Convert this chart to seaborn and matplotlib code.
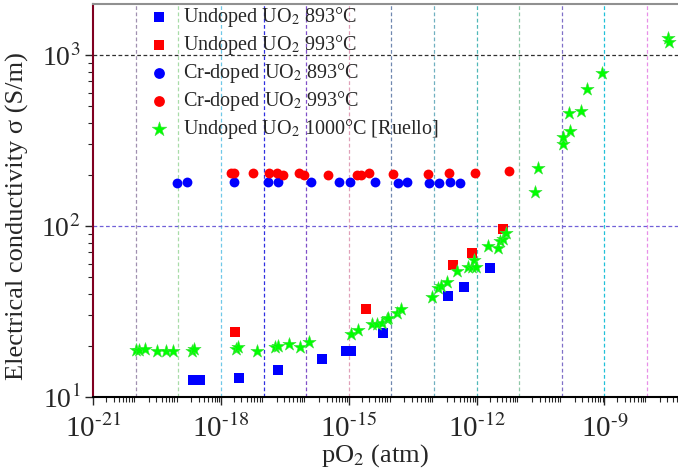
import numpy as np
import pandas as pd
import seaborn as sns
import matplotlib.pyplot as plt

sns.set_style('white')
plt.rcParams['font.family'] = ['Liberation Serif', 'DejaVu Serif']
plt.rcParams['mathtext.fontset'] = 'stix'
plt.rcParams['mathtext.default'] = 'rm'
plt.rcParams['axes.unicode_minus'] = False

# Undoped UO2 893 C (blue squares): log10(pO2), conductivity S/m
undoped893_logp = [-18.65, -18.50, -17.57, -16.66, -15.64, -15.07, -14.96, -14.21, -12.67, -12.29, -11.69]
undoped893_sig = [12.6, 12.6, 13.0, 14.3, 16.6, 18.7, 18.7, 23.7, 38.8, 44.0, 56.6]

# Undoped UO2 993 C (red squares)
undoped993_logp = [-17.67, -14.60, -12.55, -12.10, -11.39]
undoped993_sig = [23.9, 32.5, 59.0, 69.5, 95.5]

# Cr-doped UO2 893 C (blue circles)
cr893_logp = [-19.03, -18.81, -17.70, -16.90, -16.66, -15.90, -15.24, -14.97, -14.39,
              -13.85, -13.64, -13.13, -12.89, -12.63, -12.40]
cr893_sig = [179, 181, 181, 181, 181, 181, 181, 181, 180, 179, 181, 179, 179, 181, 179]

# Cr-doped UO2 993 C (red circles)
cr993_logp = [-17.77, -17.70, -17.26, -16.87, -16.68, -16.54, -16.17, -16.05, -15.49,
              -14.82, -14.72, -14.52, -13.96, -13.15, -12.65, -12.04, -11.24]
cr993_sig = [205, 205, 205, 205, 205, 199, 205, 199, 199, 199, 199, 205, 201, 201, 203, 205, 210]

# Undoped UO2 1000 C [Ruello] (green stars)
ruello_logp = [-20.00, -19.92, -19.79, -19.51, -19.29, -19.14, -18.69, -18.63, -17.65, -17.61,
               -17.15, -16.73, -16.66, -16.41, -16.15, -15.93, -14.95, -14.78, -14.45, -14.35,
               -14.23, -14.11, -14.08, -13.88, -13.78, -13.06, -12.92, -12.84, -12.70, -12.47,
               -12.21, -12.12, -12.06, -12.02, -11.74, -11.49, -11.46, -11.39, -11.31, -10.62,
               -10.57, -9.98, -9.97, -9.81, -9.83, -9.55, -9.42, -9.05, -7.50, -7.49]
ruello_sig = [18.8, 18.8, 19.0, 18.7, 18.7, 18.7, 18.7, 19.2, 19.2, 19.5,
              18.5, 19.7, 19.9, 20.4, 19.7, 21.0, 23.3, 24.6, 26.7, 26.7,
              27.2, 28.4, 28.8, 30.9, 32.7, 38.6, 43.6, 44.6, 46.9, 54.8,
              57.8, 57.3, 63.2, 57.3, 76.4, 74.3, 81.6, 83.6, 90.6, 157,
              219, 300, 333, 359, 460, 471, 633, 788, 1253, 1197]

labels = ['Undoped UO$_2$ 893°C', 'Undoped UO$_2$ 993°C', 'Cr-doped UO$_2$ 893°C',
          'Cr-doped UO$_2$ 993°C', 'Undoped UO$_2$ 1000°C [Ruello]']
x_exps = [-21, -18, -15, -12, -9]
y_exps = [1, 2, 3]

def frame(logp, sig):
    return pd.DataFrame({'p': 10.0 ** np.array(logp), 'sigma': sig})

def sup_label(e):
    s = str(e).replace('-', r'\text{-}')
    return '10$^{%s}$' % s

fig = plt.figure(figsize=(6.78, 4.75), dpi=100)
ax = fig.add_axes([93.3 / 678, 78 / 475, 639 / 678, 393 / 475])

# colourful dashed grid like the original Origin plot
grid_cols = ['#a090b0', '#a8dca8', '#70c8e8', '#3030e0', '#8050c8', '#e0a0b8', '#7088b0',
             '#70b0c0', '#50b8b8', '#90c8a8', '#8070c8', '#20c0d8', '#e890e8', '#8080c0']
for e, c in zip(range(-20, -6), grid_cols):
    ax.axvline(10.0 ** e, color=c, lw=0.9, ls=(0, (3, 2)), zorder=0)
ax.axhline(100, color='#7060d8', lw=0.9, ls=(0, (3, 2)), zorder=0)
ax.axhline(1000, color='#303030', lw=0.9, ls=(0, (3, 2)), zorder=0)

sns.scatterplot(data=frame(undoped893_logp, undoped893_sig), x='p', y='sigma', ax=ax,
                marker='s', color='#0000ff', s=45, linewidth=0, label=labels[0], zorder=3)
sns.scatterplot(data=frame(undoped993_logp, undoped993_sig), x='p', y='sigma', ax=ax,
                marker='s', color='#ff0000', s=45, linewidth=0, label=labels[1], zorder=3)
sns.scatterplot(data=frame(cr893_logp, cr893_sig), x='p', y='sigma', ax=ax,
                marker='o', color='#0000ff', s=50, linewidth=0, label=labels[2], zorder=3)
sns.scatterplot(data=frame(cr993_logp, cr993_sig), x='p', y='sigma', ax=ax,
                marker='o', color='#ff0000', s=50, linewidth=0, label=labels[3], zorder=3)
sns.scatterplot(data=frame(ruello_logp, ruello_sig), x='p', y='sigma', ax=ax,
                marker='*', color='#00ff00', s=100, linewidth=0.4, edgecolor='#40e040',
                label=labels[4], zorder=4)

ax.set_xscale('log')
ax.set_yscale('log')
ax.set_xlim(1e-21, 1e-6)
ax.set_ylim(10, 10 ** 3.298)
ax.set_xticks([10.0 ** e for e in x_exps])
ax.set_xticklabels([sup_label(e) for e in x_exps])
ax.set_yticks([10.0 ** e for e in y_exps])
ax.set_yticklabels([sup_label(e) for e in y_exps])
ax.xaxis.set_minor_locator(plt.LogLocator(base=10, subs=np.arange(2, 10), numticks=100))
ax.xaxis.set_minor_formatter(plt.NullFormatter())
ax.yaxis.set_minor_formatter(plt.NullFormatter())

ax.tick_params(axis='x', which='major', direction='out', length=6, width=1, labelsize=21, pad=7)
ax.tick_params(axis='x', which='minor', direction='out', length=3.5, width=0.8)
ax.tick_params(axis='y', which='major', direction='out', length=6, width=1, labelsize=20, pad=3)
ax.tick_params(axis='y', which='minor', direction='out', length=3.5, width=0.8)
ax.tick_params(bottom=True, left=True, which='both')

ax.spines['left'].set_color('#800020')
ax.spines['left'].set_linewidth(1.5)
ax.spines['bottom'].set_color('black')
ax.spines['bottom'].set_linewidth(1.5)
ax.spines['top'].set_color('#909090')
ax.spines['top'].set_linewidth(1.5)
ax.spines['right'].set_visible(False)

ax.set_xlabel('pO$_2$ (atm)', fontsize=19)
ax.set_ylabel('Electrical conductivity σ (S/m)', fontsize=19)
ax.xaxis.set_label_coords(0.441, -0.115)
ax.yaxis.set_label_coords(-0.1, 0.46)

ax.legend(loc='upper left', bbox_to_anchor=(0.055, 1.043), frameon=False, fontsize=14.5,
          handlelength=1.2, handletextpad=0.6, labelspacing=0.2, markerscale=1.1)

fig.savefig('out.png', dpi=100)
